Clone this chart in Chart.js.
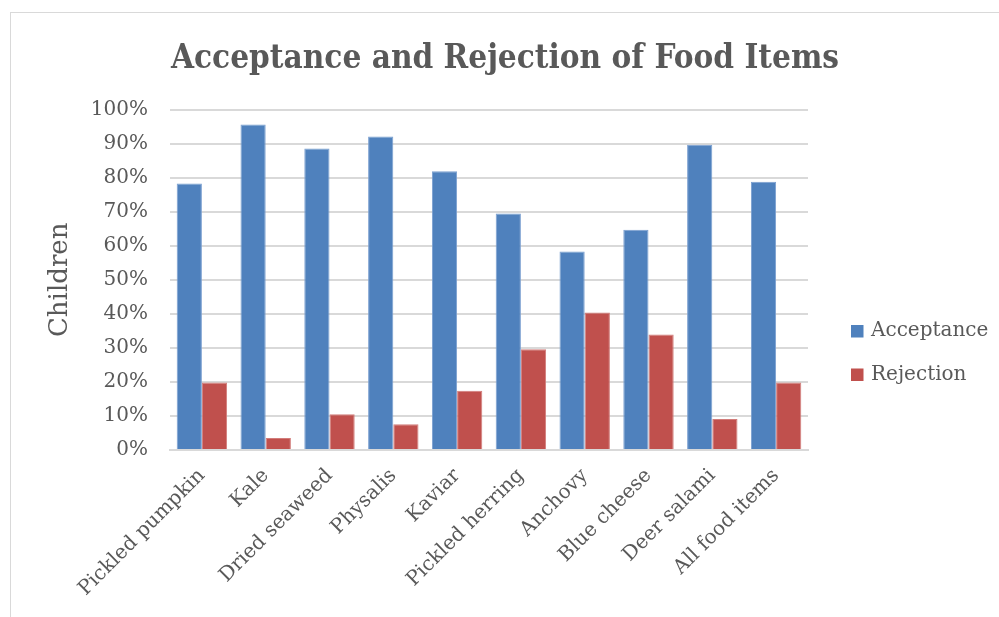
<!DOCTYPE html>
<html>
<head>
<meta charset="utf-8">
<title>Acceptance and Rejection of Food Items</title>
<script src="https://cdn.jsdelivr.net/npm/chart.js@4/dist/chart.umd.min.js"></script>
<style>
    html, body { margin: 0; padding: 0; background: #fff; overflow: hidden; }
    #frame {
        position: absolute;
        left: 10px;
        top: 12px;
        width: 1000px;
        height: 620px;
        border: 1px solid #d9d9d9;
    }
    #chartWrap {
        position: absolute;
        left: 0;
        top: 0;
        width: 988px;
        height: 604px;
    }
</style>
</head>
<body>
<div id="frame">
    <div id="chartWrap"><canvas id="foodChart"></canvas></div>
</div>
<script>
// Chart data
const foodItems = [
    'Pickled pumpkin', 'Kale', 'Dried seaweed', 'Physalis', 'Kaviar',
    'Pickled herring', 'Anchovy', 'Blue cheese', 'Deer salami', 'All food items'
];
const acceptance = [78.3, 95.6, 88.6, 92.1, 81.9, 69.5, 58.3, 64.7, 89.7, 78.8];
const rejection = [19.8, 3.5, 10.5, 7.6, 17.4, 29.6, 40.4, 33.9, 9.1, 19.8];
const yTicks = [0, 10, 20, 30, 40, 50, 60, 70, 80, 90, 100];

const textColor = '#595959';
const serif = "'DejaVu Serif', 'Liberation Serif', serif";

// Legend as a layout box on the right, so the title stays centred on the canvas
const sideLegend = {
    id: 'sideLegend',
    beforeInit(chart) {
        const box = {
            position: 'right',
            weight: 0,
            fullSize: false,
            options: {},
            left: 0, top: 0, right: 0, bottom: 0, width: 0, height: 0,
            isHorizontal() { return false; },
            update(maxWidth, maxHeight) {
                this.width = 191;
                this.height = maxHeight;
            },
            draw() {
                const ctx = chart.ctx;
                ctx.save();
                ctx.font = '20px ' + serif;
                ctx.textBaseline = 'middle';
                ctx.textAlign = 'left';
                chart.data.datasets.forEach((ds, i) => {
                    const y = 318 + i * 43.5;
                    ctx.fillStyle = ds.backgroundColor;
                    ctx.fillRect(this.left + 43, y - 6, 12.5, 12.5);
                    ctx.fillStyle = textColor;
                    ctx.fillText(ds.label, this.left + 63, y);
                });
                ctx.restore();
            }
        };
        Chart.layouts.addBox(chart, box);
    }
};

const ctx = document.getElementById('foodChart').getContext('2d');
new Chart(ctx, {
    type: 'bar',
    data: {
        labels: foodItems,
        datasets: [
            {
                label: 'Acceptance',
                data: acceptance,
                backgroundColor: '#4f81bd',
                borderColor: '#7a9fd0',
                borderWidth: 1,
                categoryPercentage: 0.79,
                barPercentage: 1.0
            },
            {
                label: 'Rejection',
                data: rejection,
                backgroundColor: '#c0504d',
                borderColor: '#d27c7a',
                borderWidth: 1,
                categoryPercentage: 0.79,
                barPercentage: 1.0
            }
        ]
    },
    options: {
        responsive: true,
        maintainAspectRatio: false,
        animation: false,
        plugins: {
            legend: { display: false },
            tooltip: { enabled: false },
            title: {
                display: true,
                text: 'Acceptance and Rejection of Food Items',
                color: textColor,
                font: { family: "'DejaVu Serif Condensed', 'DejaVu Serif', serif", size: 33, weight: 'bold' },
                padding: { top: 27, bottom: 30 }
            }
        },
        scales: {
            x: {
                grid: { display: false, drawTicks: false },
                border: { color: '#d9d9d9', width: 2 },
                ticks: {
                    color: textColor,
                    font: { family: serif, size: 20 },
                    maxRotation: 45,
                    minRotation: 45,
                    padding: 14
                },
                afterFit: (scale) => { scale.height = 167; }
            },
            y: {
                min: 0,
                max: 100,
                afterBuildTicks: (scale) => {
                    scale.ticks = yTicks.map(v => ({ value: v }));
                },
                grid: { color: '#d9d9d9', lineWidth: 2, drawTicks: false },
                border: { display: false },
                ticks: {
                    color: textColor,
                    font: { family: serif, size: 20 },
                    padding: 22,
                    callback: (v) => v + '%'
                },
                title: {
                    display: true,
                    text: 'Children',
                    color: textColor,
                    font: { family: serif, size: 26 },
                    padding: { top: 34, bottom: 0 }
                },
                afterFit: (scale) => { scale.width = 159; }
            }
        }
    },
    plugins: [sideLegend]
});
</script>
</body>
</html>
